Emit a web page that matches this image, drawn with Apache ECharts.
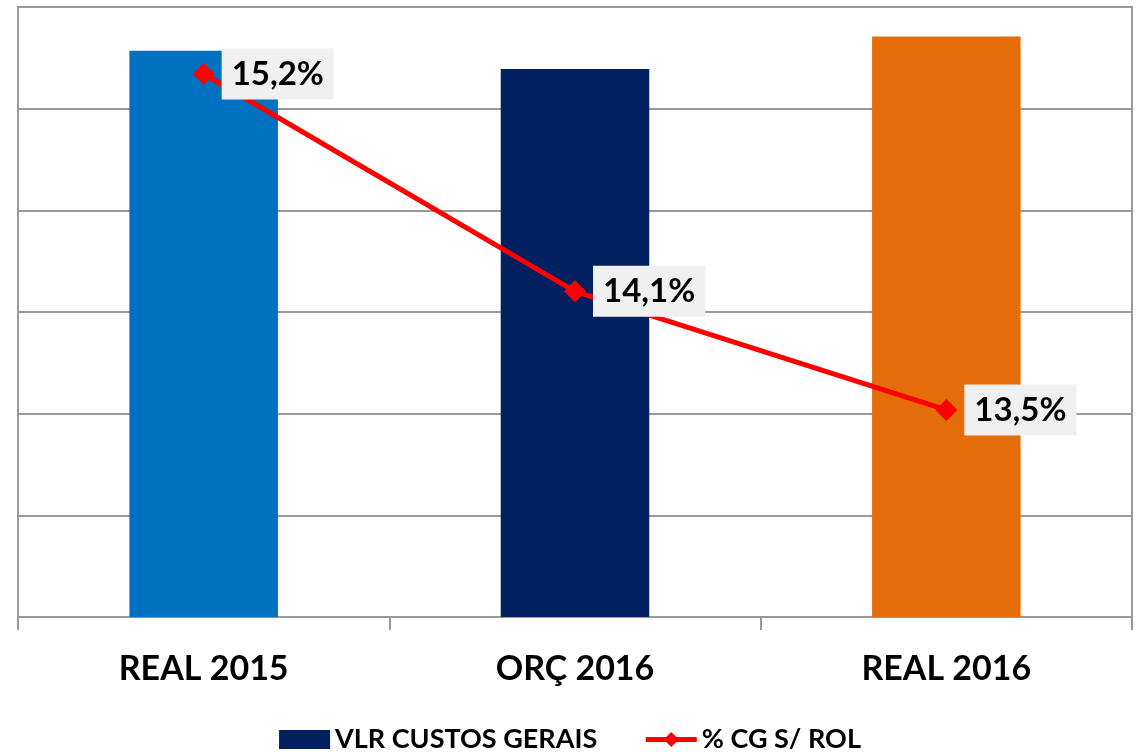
<!DOCTYPE html>
<html>
<head>
<meta charset="utf-8">
<script src="https://cdn.jsdelivr.net/npm/echarts@6/dist/echarts.min.js"></script>
<style>
html, body { margin: 0; padding: 0; background: #fff; }
#chart { width: 1140px; height: 752px; }
</style>
</head>
<body>
<div id="chart"></div>
<script>
var categories = ['REAL 2015', 'ORÇ 2016', 'REAL 2016'];
var custosGerais = [5.57, 5.39, 5.71];      // VLR CUSTOS GERAIS (escala relativa)
var pctCgRol = [15.2, 14.1, 13.5];          // % CG S/ ROL
var barColors = ['#0070C0', '#002060', '#E46C0A'];

var myChart = echarts.init(document.getElementById('chart'));

var option = {
	backgroundColor: '#fff',
	textStyle: { fontFamily: 'Lato' },
	grid: {
		left: 18,
		right: 8,
		top: 7,
		bottom: 135,
		show: true,
		borderColor: '#999',
		borderWidth: 2
	},
	legend: {
		top: 721,
		left: 'center',
		itemGap: 46,
		itemWidth: 51,
		itemHeight: 19,
		lineStyle: { width: 5 },
		textStyle: {
			fontSize: 27,
			fontWeight: 'bold',
			color: '#000',
			fontFamily: 'Lato'
		},
		data: [
			{ name: 'VLR CUSTOS GERAIS', icon: 'rect' },
			{ name: '% CG S/ ROL' }
		]
	},
	xAxis: {
		type: 'category',
		data: categories,
		axisLine: { lineStyle: { color: '#999', width: 2 } },
		axisTick: { show: true, length: 13, lineStyle: { color: '#999', width: 2 } },
		axisLabel: {
			margin: 35,
			fontSize: 34,
			fontWeight: 'bold',
			color: '#000',
			fontFamily: 'Lato'
		}
	},
	yAxis: [{
		type: 'value',
		min: 0,
		max: 6,
		interval: 1,
		axisLabel: { show: false },
		axisTick: { show: false },
		axisLine: { show: true, lineStyle: { color: '#999', width: 2 } },
		splitLine: { lineStyle: { color: '#999', width: 2 } }
	}, {
		type: 'value',
		show: false,
		min: 12.452,
		max: 15.539,
		splitLine: { show: false }
	}],
	series: [{
		name: 'VLR CUSTOS GERAIS',
		type: 'bar',
		barWidth: '40%',
		itemStyle: { color: '#002060' },
		data: custosGerais.map(function(v, i) {
			return { value: v, itemStyle: { color: barColors[i] } };
		})
	}, {
		name: '% CG S/ ROL',
		type: 'line',
		yAxisIndex: 1,
		z: 5,
		symbol: 'diamond',
		symbolSize: 22,
		itemStyle: { color: '#FF0000' },
		lineStyle: { color: '#FF0000', width: 5 },
		label: {
			show: true,
			position: 'right',
			distance: 7,
			backgroundColor: '#F0F0F0',
			padding: [9, 10, 9, 10],
			fontSize: 33,
			fontWeight: 'bold',
			color: '#000',
			fontFamily: 'Lato',
			formatter: function(p) {
				return p.value.toFixed(1).replace('.', ',') + '%';
			}
		},
		data: pctCgRol
	}]
};
myChart.setOption(option);
</script>
</body>
</html>
